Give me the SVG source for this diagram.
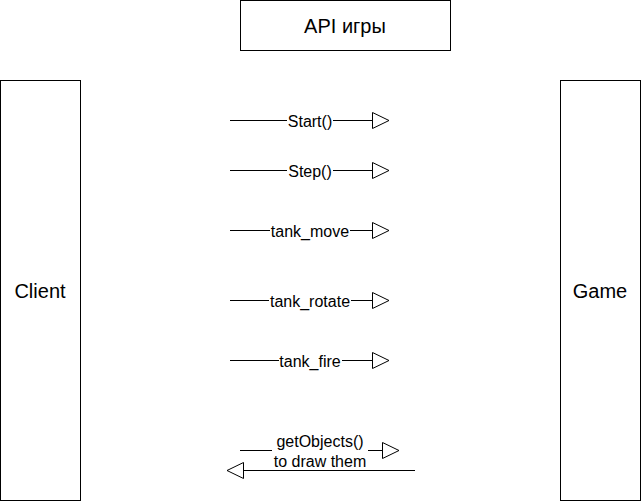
<svg xmlns="http://www.w3.org/2000/svg" width="641" height="501" viewBox="0 0 641 501">
<style>
.box{fill:#fff;stroke:#000;stroke-width:1}
.t{font-family:"Liberation Sans",Arial,sans-serif;fill:#000;text-anchor:middle;dominant-baseline:central}
.big{font-size:20px}
.lbl{font-size:16px}
.ln{stroke:#000;stroke-width:1;fill:none}
.bg{fill:#fff}
</style>
<defs>
<marker id="open" markerUnits="userSpaceOnUse" markerWidth="19" markerHeight="18" refX="17" refY="9" orient="auto" viewBox="0 0 19 18">
<path d="M0.5,1 L17,9 L0.5,17 Z" fill="#fff" stroke="#000" stroke-width="1"/>
</marker>
</defs>
<rect width="641" height="501" fill="#fff"/>
<g id="api">
<rect class="box" x="240.5" y="0.5" width="210" height="50"/>
<text class="t big" x="345" y="26">API игры</text>
</g>
<g id="client">
<rect class="box" x="0.5" y="80.5" width="80" height="420"/>
<text class="t big" x="40" y="291">Client</text>
</g>
<g id="game">
<rect class="box" x="560.5" y="80.5" width="80" height="420"/>
<text class="t big" x="600" y="291">Game</text>
</g>
<g id="connectors">
<line class="ln" x1="230" y1="120.5" x2="389" y2="120.5" marker-end="url(#open)"/>
<rect class="bg" x="287" y="111" width="46" height="19"/>
<text class="t lbl" x="310" y="121">Start()</text>

<line class="ln" x1="230" y1="170.5" x2="389" y2="170.5" marker-end="url(#open)"/>
<rect class="bg" x="287" y="161" width="46" height="19"/>
<text class="t lbl" x="310" y="171">Step()</text>

<line class="ln" x1="230" y1="230.5" x2="389" y2="230.5" marker-end="url(#open)"/>
<rect class="bg" x="270" y="221" width="80" height="19"/>
<text class="t lbl" x="310" y="231">tank_move</text>

<line class="ln" x1="230" y1="300.5" x2="389" y2="300.5" marker-end="url(#open)"/>
<rect class="bg" x="269" y="291" width="82" height="19"/>
<text class="t lbl" x="310" y="301">tank_rotate</text>

<line class="ln" x1="230" y1="360.5" x2="389" y2="360.5" marker-end="url(#open)"/>
<rect class="bg" x="279" y="351" width="63" height="19"/>
<text class="t lbl" x="310" y="361">tank_fire</text>

<line class="ln" x1="240" y1="450.5" x2="399" y2="450.5" marker-end="url(#open)"/>
<rect class="bg" x="272" y="432" width="96" height="19"/>
<text class="t lbl" x="320" y="441">getObjects()</text>

<line class="ln" x1="415" y1="470.5" x2="227" y2="470.5" marker-end="url(#open)"/>
<text class="t lbl" x="320" y="461">to draw them</text>
</g>
</svg>
